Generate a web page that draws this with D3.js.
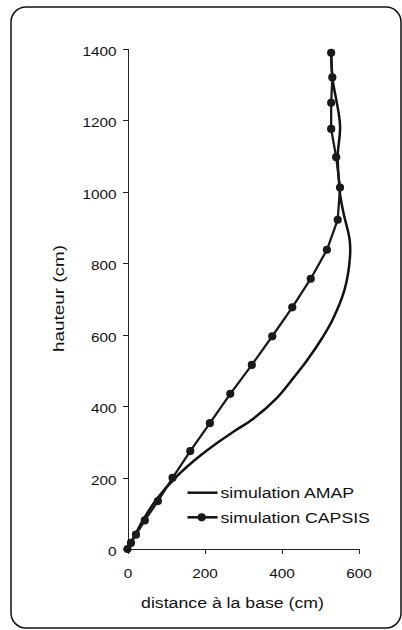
<!DOCTYPE html>
<meta charset="utf-8">
<style>
body { margin: 0; background: #fff; }
svg { display: block; font-family: Arial, "Liberation Sans", sans-serif; }
.axis path, .axis line { stroke: #222; stroke-width: 1; shape-rendering: crispEdges; }
.axis text { fill: #111; font-size: 13px; }
</style>
<body>
<script src="https://cdn.jsdelivr.net/npm/d3@7"></script>
<script>

// simulation CAPSIS (points reliés par des segments), du bas vers le haut
var capsisDist   = [0, 9, 22, 45, 79, 117, 163, 214, 267, 323, 376, 428, 476, 518, 546, 552, 542, 529, 529, 532, 529];
var capsisHauteur = [0, 17, 40, 80, 134, 199, 274, 352, 434, 515, 595, 676, 756, 837, 921, 1011, 1096, 1175, 1248, 1319, 1388];

// simulation AMAP (courbe lissée)
var amapDist    = [0, 20, 42, 76, 125, 182, 237, 278, 325, 385, 432, 468, 506, 533, 564, 578, 577, 561, 553, 549, 546, 552, 532, 529];
var amapHauteur = [0, 40, 84, 140, 200, 255, 300, 330, 363, 419, 480, 530, 591, 642, 726, 819, 865, 940, 986, 1030, 1100, 1186, 1320, 1388];

var xTicks = [0, 200, 400, 600];
var yTicks = [0, 200, 400, 600, 800, 1000, 1200, 1400];
var legendLabels = ["simulation AMAP", "simulation CAPSIS"];

var largeur = 402;
var hauteur = 630;
var margin = {top: 48.5, right: 43.5, bottom: 81, left: 127.5};
var sx = 1.18; // le texte de l'original est un peu étiré en largeur

const svg = d3.select("body").append("svg")
    .attr("width", largeur)
    .attr("height", hauteur);

// cadre arrondi
svg.append("rect")
    .attr("x", 11)
    .attr("y", 7)
    .attr("width", 390)
    .attr("height", 621)
    .attr("rx", 15)
    .attr("fill", "none")
    .attr("stroke", "#111")
    .attr("stroke-width", 1.5);

var x = d3.scaleLinear()
    .domain([0, 600])
    .range([margin.left, largeur - margin.right]);
var y = d3.scaleLinear()
    .domain([0, 1400])
    .range([hauteur - margin.bottom, margin.top]);

// axe des ordonnées
var gy = svg.append("g")
    .attr("class", "axis")
    .attr("transform", "translate(" + margin.left + ",0)")
    .call(d3.axisLeft(y).tickValues(yTicks).tickSizeOuter(0).tickSize(5).tickPadding(4.3).tickFormat(d3.format("d")));
gy.selectAll("text")
    .attr("dy", "0.5em")
    .attr("transform", "scale(" + sx + ",1)");

// axe des abscisses
var gx = svg.append("g")
    .attr("class", "axis")
    .attr("transform", "translate(0," + (hauteur - margin.bottom) + ")")
    .call(d3.axisBottom(x).tickValues(xTicks).tickSizeOuter(0).tickSize(5).tickPadding(14.5).tickFormat(d3.format("d")));
gx.selectAll("text")
    .attr("transform", "scale(" + sx + ",1)");

// titres des axes
svg.append("text")
    .attr("transform", "translate(59,298.5) rotate(-90) scale(1.26,1)")
    .attr("text-anchor", "middle")
    .attr("dy", "0.35em")
    .style("font-size", "15px")
    .attr("fill", "#111")
    .text("hauteur (cm)");

svg.append("text")
    .attr("transform", "translate(232.5,608) scale(" + sx + ",1)")
    .attr("text-anchor", "middle")
    .style("font-size", "15px")
    .attr("fill", "#111")
    .text("distance à la base (cm)");

// courbes
const amap = amapDist.map((d, i) => ({x: d, y: amapHauteur[i]}));
const capsis = capsisDist.map((d, i) => ({x: d, y: capsisHauteur[i]}));

var lineAmap = d3.line()
    .x(d => x(d.x))
    .y(d => y(d.y))
    .curve(d3.curveCatmullRom.alpha(0.5));
var lineCapsis = d3.line()
    .x(d => x(d.x))
    .y(d => y(d.y));

svg.append("path")
    .datum(amap)
    .attr("fill", "none")
    .attr("stroke", "#111")
    .attr("stroke-width", 2.5)
    .attr("d", lineAmap);

svg.append("path")
    .datum(capsis)
    .attr("fill", "none")
    .attr("stroke", "#1a1a1a")
    .attr("stroke-width", 2.3)
    .attr("d", lineCapsis);

svg.selectAll(".pt")
    .data(capsis)
    .enter().append("circle")
        .attr("class", "pt")
        .attr("cx", d => x(d.x))
        .attr("cy", d => y(d.y))
        .attr("r", 4.1)
        .attr("fill", "#1a1a1a");

// légende
var leg = svg.append("g")
    .selectAll("g")
    .data(legendLabels)
    .enter().append("g")
        .attr("transform", (d, i) => "translate(187.5," + (492.7 + i * 24.6) + ")");
leg.append("line")
    .attr("x1", 0).attr("x2", 30)
    .attr("stroke", "#111")
    .attr("stroke-width", 2.5);
leg.filter((d, i) => i === 1).append("circle")
    .attr("cx", 14.2)
    .attr("r", 4.1)
    .attr("fill", "#1a1a1a");
leg.append("text")
    .attr("transform", "translate(33,0) scale(" + sx + ",1)")
    .attr("dy", "0.35em")
    .style("font-size", "15px")
    .attr("fill", "#111")
    .text(d => d);

</script>
</body>
